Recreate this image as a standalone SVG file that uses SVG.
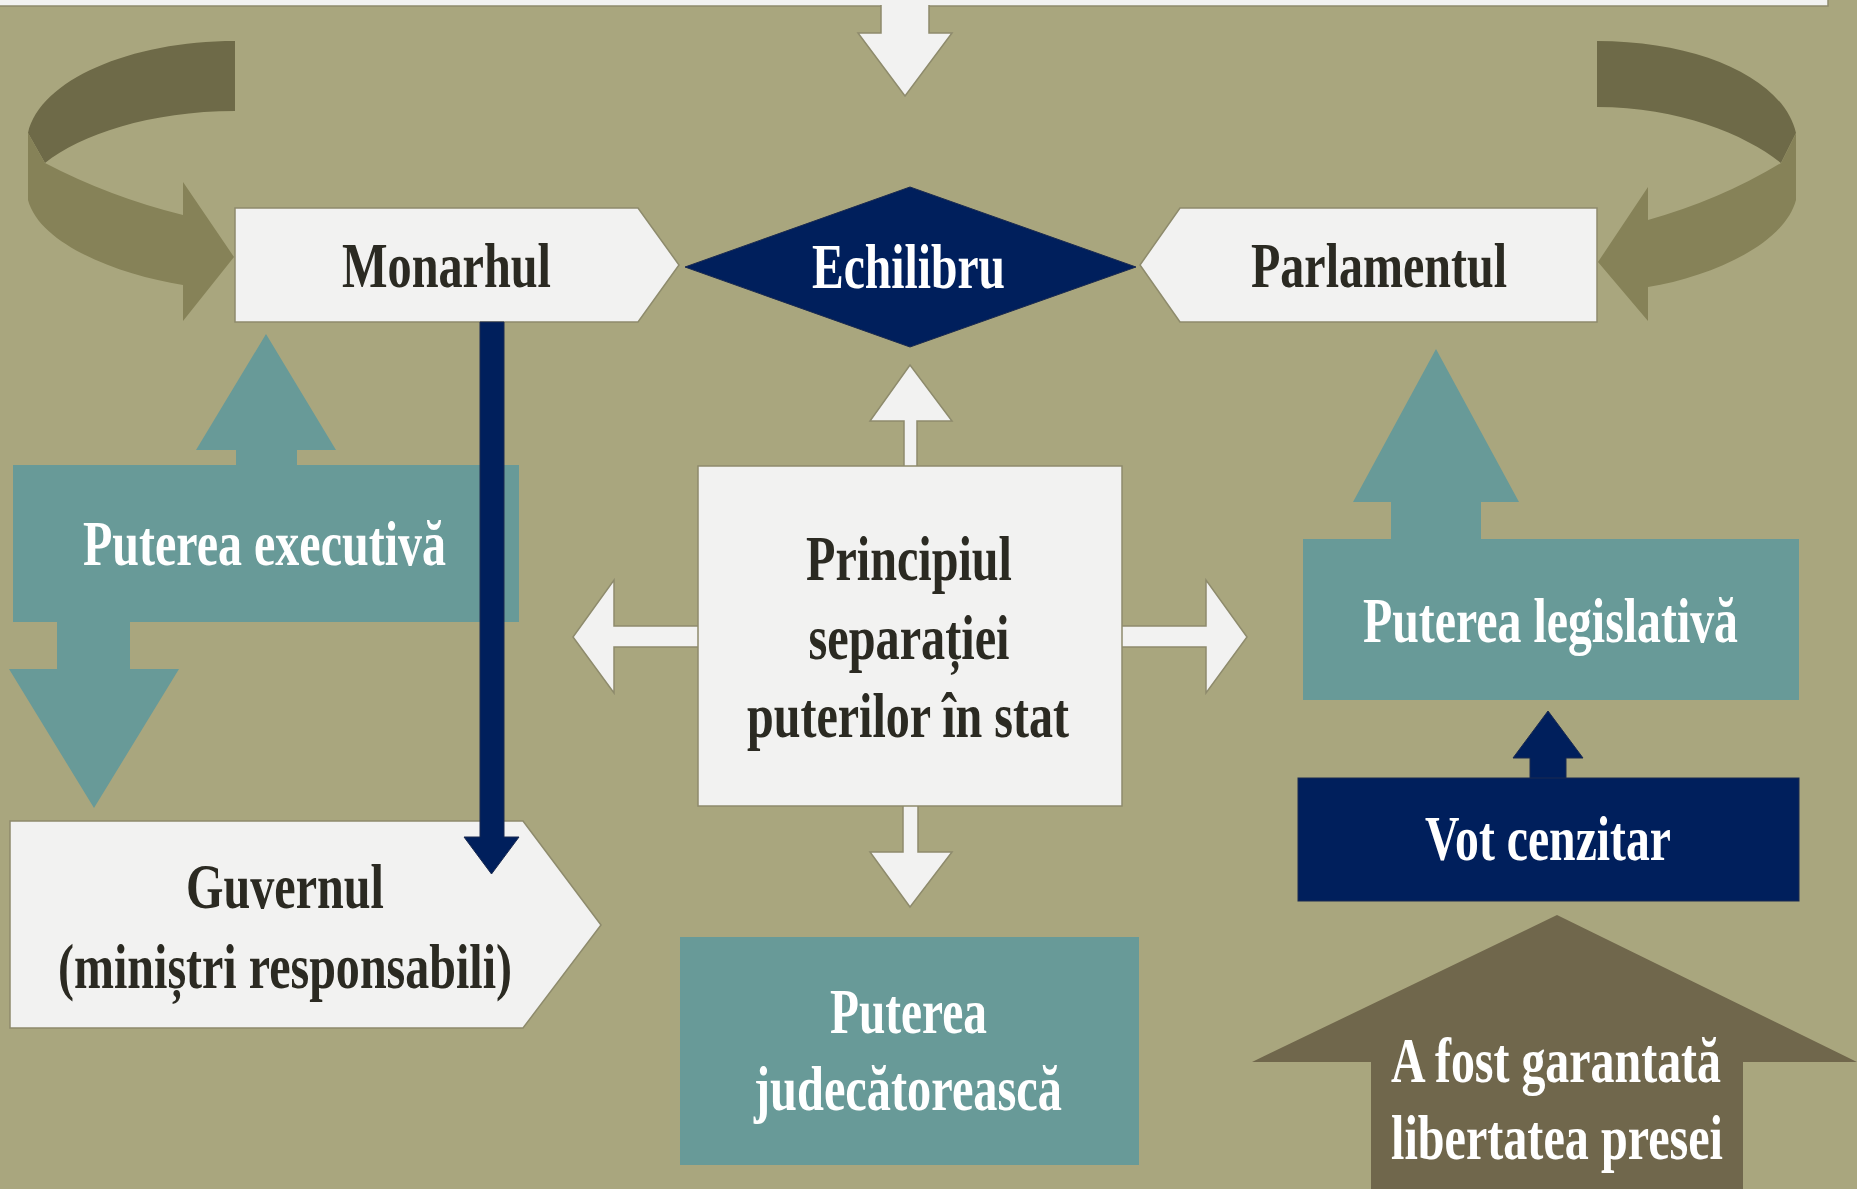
<svg xmlns="http://www.w3.org/2000/svg" width="1857" height="1189" viewBox="0 0 1857 1189">
<style>
.bg{fill:#A9A67E}
.w{fill:#F2F2F1;stroke:#8E8B6C;stroke-width:1.5}
.teal{fill:#689A98}
.navy{fill:#001F5C;stroke:#1a2a50;stroke-width:1}
.dk{fill:#6E6A48}
.lt{fill:#868258}
.brown{fill:#70674C}
text{font-family:"Liberation Serif","Times New Roman",serif;font-weight:bold;font-size:64px;text-anchor:middle}
.td{fill:#2B2A22}
.tw{fill:#FFFFFF}
</style>
<rect class="bg" x="0" y="0" width="1857" height="1189"/>
<rect class="w" x="-5" y="-10" width="1833" height="16"/>

<g id="connectors">
  <!-- top down arrow -->
  <path class="w" d="M881,5 V33 H858 L905,96 L952,33 H929 V5"/>
  <!-- left curved arrow -->
  <path class="dk" d="M235,41 C130,41 40,80 28,133 L45,163 C80,135 150,111 235,111 Z"/>
  <path class="lt" d="M28,133 L45,163 Q110,197 183,215 L183,182 L234,257 L183,321 L183,285 C120,275 40,245 28,200 Z"/>
  <!-- right curved arrow -->
  <path class="dk" d="M1597,41 C1702,41 1784,80 1796,133 L1781,163 C1746,135 1680,107 1597,107 Z"/>
  <path class="lt" d="M1796,133 L1781,163 Q1720,200 1648,220 L1648,187 L1598,262 L1648,321 L1648,287 C1710,277 1784,245 1796,200 Z"/>
  <!-- executive arrows -->
  <path class="teal" d="M236,466 V450 H196 L266,334 L336,450 H297 V466 Z"/>
  <path class="teal" d="M57,621 V669 H9 L94,808 L179,669 H130 V621 Z"/>
  <!-- legislative up arrow -->
  <path class="teal" d="M1391,540 V502 H1353 L1436,349 L1519,502 H1481 V540 Z"/>
  <!-- principle arrows -->
  <path class="w" d="M904,466 V421 H870 L910,365 L952,421 H917 V466"/>
  <path class="w" d="M698,626 H614 V580 L573,637 L614,693 V647 H698"/>
  <path class="w" d="M1122,626 H1206 V580 L1247,637 L1206,693 V647 H1122"/>
  <path class="w" d="M903,806 V852 H870 L910,907 L952,852 H918 V806"/>
  <!-- vot up arrow -->
  <path class="navy" d="M1530,779 V758 H1513 L1548,711 L1583,758 H1566 V779 Z"/>
</g>

<g id="node-executiv">
  <rect class="teal" x="13" y="465" width="506" height="157"/>
  <text class="tw" x="264.5" y="565" textLength="363" lengthAdjust="spacingAndGlyphs">Puterea executivă</text>
</g>

<g id="node-guvernul">
  <path class="w" d="M10,821 H523 L601,925 L523,1028 H10 Z"/>
  <text class="td" x="285" y="908" textLength="198" lengthAdjust="spacingAndGlyphs">Guvernul</text>
  <text class="td" x="285" y="988" textLength="454" lengthAdjust="spacingAndGlyphs">(miniștri responsabili)</text>
</g>

<g id="node-monarhul">
  <path class="w" d="M235,208 H638 L679,265 L638,322 H235 Z"/>
  <text class="td" x="446.5" y="287" textLength="209" lengthAdjust="spacingAndGlyphs">Monarhul</text>
</g>

<g id="connector-monarh-guvern">
  <path class="navy" d="M480,322 V837 H464 L491.5,874 L519,837 H504 V322 Z"/>
</g>

<g id="node-echilibru">
  <path class="navy" d="M910,187 L1136,267 L910,347 L685,267 Z"/>
  <text class="tw" x="908.5" y="288" textLength="193" lengthAdjust="spacingAndGlyphs">Echilibru</text>
</g>

<g id="node-parlamentul">
  <path class="w" d="M1597,208 H1180 L1140,265 L1180,322 H1597 Z"/>
  <text class="td" x="1379" y="287" textLength="256" lengthAdjust="spacingAndGlyphs">Parlamentul</text>
</g>

<g id="node-principiul">
  <rect class="w" x="698" y="466" width="424" height="340"/>
  <text class="td" x="909" y="580" textLength="206" lengthAdjust="spacingAndGlyphs">Principiul</text>
  <text class="td" x="909" y="659" textLength="201" lengthAdjust="spacingAndGlyphs">separației</text>
  <text class="td" x="908" y="737" textLength="322" lengthAdjust="spacingAndGlyphs">puterilor în stat</text>
</g>

<g id="node-judecatoreasca">
  <rect class="teal" x="680" y="937" width="459" height="228"/>
  <text class="tw" x="908.5" y="1033" textLength="157" lengthAdjust="spacingAndGlyphs">Puterea</text>
  <text class="tw" x="908" y="1110" textLength="308" lengthAdjust="spacingAndGlyphs">judecătorească</text>
</g>

<g id="node-legislativa">
  <rect class="teal" x="1303" y="539" width="496" height="161"/>
  <text class="tw" x="1550.5" y="642" textLength="375" lengthAdjust="spacingAndGlyphs">Puterea legislativă</text>
</g>

<g id="node-vot">
  <rect class="navy" x="1298" y="778" width="501" height="123"/>
  <text class="tw" x="1548" y="860" textLength="246" lengthAdjust="spacingAndGlyphs">Vot cenzitar</text>
</g>

<g id="node-presa">
  <path class="brown" d="M1371,1189 V1062 H1252 L1557,915 L1857,1062 H1743 V1189 Z"/>
  <text class="tw" x="1556" y="1082" textLength="330" lengthAdjust="spacingAndGlyphs">A fost garantată</text>
  <text class="tw" x="1557" y="1159" textLength="332" lengthAdjust="spacingAndGlyphs">libertatea presei</text>
</g>
</svg>
